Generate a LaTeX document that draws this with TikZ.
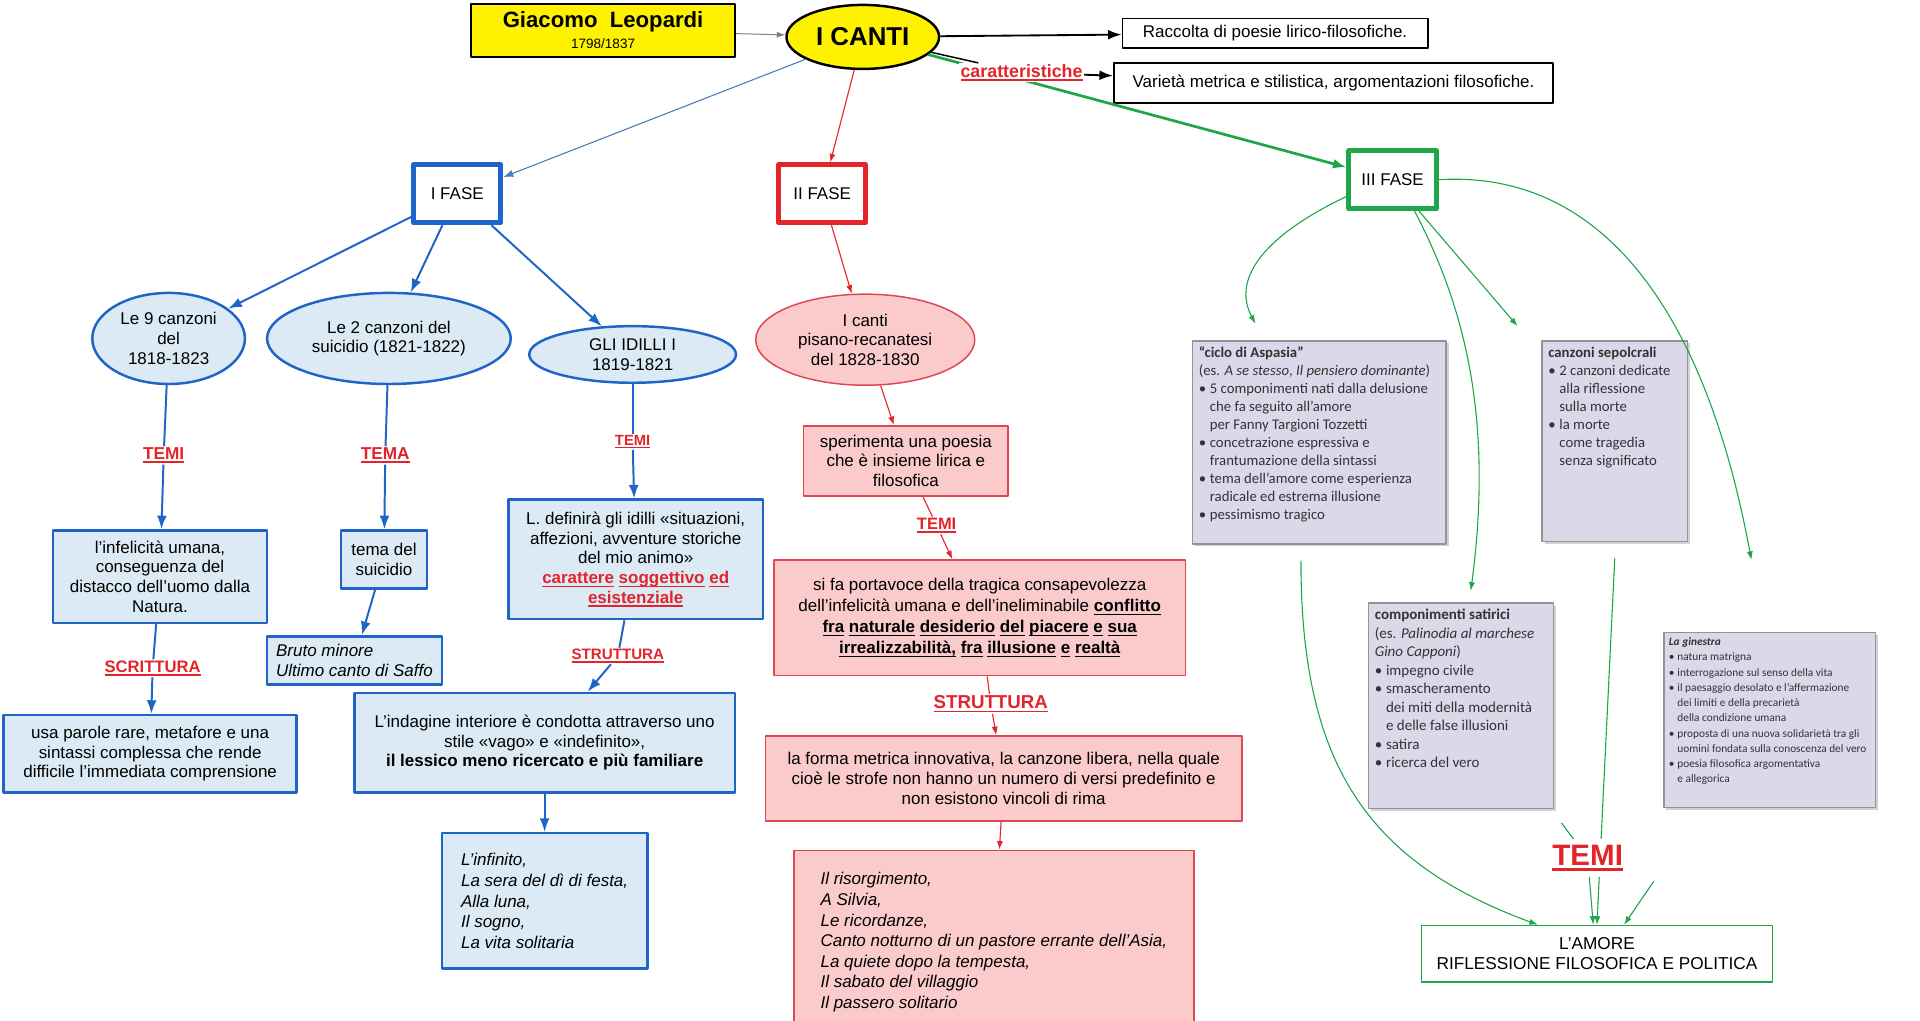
\documentclass[tikz,border=0pt]{standalone}
\usepackage{fontspec}
\setmainfont{Liberation Sans}
\newfontfamily\carlito{Carlito}
\usetikzlibrary{shapes.geometric,arrows.meta,shadows}
\definecolor{fblue}{HTML}{1F64C8}
\definecolor{azzurro}{HTML}{DBEAF4}
\definecolor{rosso}{HTML}{E3242B}
\definecolor{rosa}{HTML}{FBCBCC}
\definecolor{bordorosa}{HTML}{E04850}
\definecolor{verde}{HTML}{1FA64A}
\definecolor{lilla}{HTML}{DCD8EA}
\definecolor{acciaio}{HTML}{4A7EBB}
\newcommand{\sott}[1]{\sbox0{#1}\rlap{\rule[-0.2em]{\wd0}{0.09em}}\usebox0}
\newcommand{\punto}{\makebox[0.75em][l]{\textbullet}}
\newcommand{\rientro}{\hspace*{0.75em}}

\begin{document}
\begin{tikzpicture}[x=1pt,y=-1pt,font=\fontsize{13.8}{16}\selectfont,line join=round,
  >={Latex[length=11pt,width=8pt]},
  cornice/.style={draw,line width=1.5pt,fill=white,inner sep=2pt},
  fase/.style={draw,line width=4pt,fill=white,minimum width=71pt,minimum height=47pt},
  bluell/.style={ellipse,draw=fblue,line width=2pt,fill=azzurro,align=center,inner sep=0pt},
  blubox/.style={draw=fblue,line width=2pt,fill=azzurro,align=center,inner sep=2pt},
  rosell/.style={ellipse,draw=bordorosa,line width=1.2pt,fill=rosa,align=center,inner sep=0pt},
  rosabox/.style={draw=bordorosa,line width=1.2pt,fill=rosa,align=center,inner sep=2pt},
  lillabox/.style={draw=gray!85,line width=1.2pt,fill=lilla,inner sep=5pt,text=black!80,
    drop shadow={shadow xshift=2pt,shadow yshift=-2pt,fill=gray!70}},
  etic/.style={text=rosso,font=\bfseries\fontsize{14}{16}\selectfont,inner sep=1pt},
  frblu/.style={draw=fblue,line width=1.6pt,->},
  frrossa/.style={draw=rosso,line width=0.9pt,>={Latex[length=7pt,width=5pt]},->},
  frverde/.style={draw=verde,line width=0.9pt,>={Latex[length=7pt,width=5pt]},->}]
\useasboundingbox (0,0) rectangle (1560,829);

% titolo
\node[cornice,line width=1.8pt,fill=yellow,minimum width=214pt,minimum height=43pt,align=center,inner sep=1pt] (leo) at (490,24.5)
  {{\bfseries\fontsize{18}{18}\selectfont Giacomo\ \ Leopardi}\\[1pt]{\fontsize{11}{11}\selectfont 1798/1837}};
\node[ellipse,draw,line width=2pt,fill=yellow,minimum width=124pt,minimum height=52pt,inner sep=0pt,
  font=\bfseries\fontsize{21}{21}\selectfont] (canti) at (701,30) {I CANTI};
\node[cornice,minimum width=248pt,minimum height=24pt] (racc) at (1036,27) {Raccolta di poesie lirico-filosofiche.};
\node[cornice,minimum width=357pt,minimum height=33pt] (var) at (1083.5,67.5) {Varietà metrica e stilistica, argomentazioni filosofiche.};

\node[fase,draw=fblue] (f1) at (371.5,157.5) {I FASE};
\node[fase,draw=rosso] (f2) at (668,157.5) {II FASE};
\node[fase,draw=verde] (f3) at (1131.5,146) {III FASE};

\draw[gray,line width=0.8pt,>={Latex[length=7pt,width=5pt]},->] (leo) -- (canti);
\draw[line width=1.5pt,->] (canti) -- (racc);
\draw[verde,line width=2.2pt,->] (canti) -- (f3.165);
\node[etic,fill=white,font=\bfseries\fontsize{14.5}{16}\selectfont] (car) at (830,59) {\sott{caratteristiche}};
\draw[line width=1.2pt] (canti) -- (car);
\draw[line width=1.5pt,->] (car) -- (var);
\draw[acciaio,line width=0.9pt,>={Latex[length=8pt,width=6pt]},->] (canti) -- (f1.20);
\draw[frrossa] (canti) -- (f2);

% I fase
\node[bluell,minimum width=124pt,minimum height=74pt] (e1) at (137,275) {Le 9 canzoni\\del\\1818-1823};
\node[bluell,minimum width=198pt,minimum height=74pt] (e2) at (316,275) {Le 2 canzoni del\\suicidio (1821-1822)};
\node[bluell,minimum width=168pt,minimum height=46pt] (e3) at (514,288) {GLI IDILLI I\\1819-1821};
\foreach \e in {e1,e2,e3}{\draw[frblu] (f1) -- (\e);}

\node[etic] (t1) at (133,370) {\sott{TEMI}};
\node[etic] (t2) at (313,370) {\sott{TEMA}};
\node[etic,font=\bfseries\fontsize{12}{14}\selectfont] (t3) at (514,359) {\sott{TEMI}};
\node[etic,font=\bfseries\fontsize{13.5}{16}\selectfont] (sc) at (124,543) {\sott{SCRITTURA}};
\node[etic,font=\bfseries\fontsize{12.3}{14}\selectfont] (st1) at (502,533) {\sott{STRUTTURA}};

\node[blubox,minimum width=174pt,minimum height=75pt] (b1) at (130,468.5)
  {l’infelicità umana,\\conseguenza del\\distacco dell’uomo dalla\\Natura.};
\node[blubox,minimum width=70pt,minimum height=47pt] (b2) at (312,454.5) {tema del\\suicidio};
\node[blubox,minimum width=207pt,minimum height=97pt] (b3) at (516.5,454.5)
  {L. definirà gli idilli «situazioni,\\affezioni, avventure storiche\\del mio animo»\\
   \textcolor{rosso}{\bfseries\sott{carattere} \sott{soggettivo} \sott{ed}}\\
   \textcolor{rosso}{\bfseries\sott{esistenziale}}};
\node[blubox,minimum width=238pt,minimum height=63pt] (b4) at (122,612.5)
  {usa parole rare, metafore e una\\sintassi complessa che rende\\difficile l’immediata comprensione};
\node[blubox,align=left,minimum width=142pt,minimum height=39pt,font=\itshape\fontsize{13.8}{16}\selectfont] (b5) at (288,536.5)
  {Bruto minore\\Ultimo canto di Saffo};
\node[blubox,minimum width=309pt,minimum height=81pt] (b6) at (442.5,603.5)
  {L’indagine interiore è condotta attraverso uno\\stile «vago» e «indefinito»,\\\textbf{il lessico meno ricercato e più familiare}};
\node[blubox,align=left,minimum width=167pt,minimum height=110pt,font=\itshape\fontsize{13.8}{17}\selectfont] (b7) at (442.5,732)
  {L’infinito,\\La sera del dì di festa,\\Alla luna,\\Il sogno,\\La vita solitaria};

\draw[frblu,-] (e1) -- (t1);
\draw[frblu] (t1) -- (b1);
\draw[frblu,-] (e2) -- (t2);
\draw[frblu] (t2) -- (b2);
\draw[frblu,-] (e3) -- (t3);
\draw[frblu] (t3) -- (b3);
\draw[frblu,-] (b1) -- (sc);
\draw[frblu] (sc) -- (b4);
\draw[frblu] (b2) -- (b5);
\draw[frblu,-] (b3) -- (st1);
\draw[frblu] (st1) -- (b6);
\draw[frblu] (b6) -- (b7);

% II fase
\node[rosell,minimum width=178pt,minimum height=74pt] (e4) at (703,276) {I canti\\pisano-recanatesi\\del 1828-1830};
\node[rosabox,minimum width=166pt,minimum height=57pt] (p1) at (736,374.5) {sperimenta una poesia\\che è insieme lirica e\\filosofica};
\node[etic,font=\bfseries\fontsize{13.4}{16}\selectfont] (t4) at (761,427) {\sott{TEMI}};
\node[rosabox,minimum width=334pt,minimum height=94pt,font=\fontsize{13.8}{17}\selectfont] (p2) at (796,502)
  {si fa portavoce della tragica consapevolezza\\
   dell’infelicità umana e dell’ineliminabile \textbf{\sott{conflitto}}\\
   \textbf{\sott{fra} \sott{naturale} \sott{desiderio} \sott{del} \sott{piacere} \sott{e} \sott{sua}}\\
   \textbf{\sott{irrealizzabilità,} \sott{fra} \sott{illusione} \sott{e} \sott{realtà}}};
\node[etic,font=\bfseries\fontsize{15.2}{17}\selectfont] (st2) at (805,572) {\sott{STRUTTURA}};
\node[rosabox,minimum width=387pt,minimum height=69pt] (p3) at (815.5,632.5)
  {la forma metrica innovativa, la canzone libera, nella quale\\cioè le strofe non hanno un numero di versi predefinito e\\non esistono vincoli di rima};
\node[rosabox,align=left,minimum width=325pt,minimum height=149pt,font=\itshape\fontsize{13.8}{16.7}\selectfont] (p4) at (807.5,765.5)
  {Il risorgimento,\\A Silvia,\\Le ricordanze,\\Canto notturno di un pastore errante dell’Asia,\\La quiete dopo la tempesta,\\Il sabato del villaggio\\Il passero solitario};

\draw[frrossa] (f2) -- (e4);
\draw[frrossa] (e4) -- (p1);
\draw[frrossa,-] (p1) -- (t4);
\draw[frrossa] (t4) -- (p2);
\draw[frrossa,-] (p2) -- (st2);
\draw[frrossa] (st2) -- (p3);
\draw[frrossa] (p3) -- (p4);

% III fase
\node[lillabox] (asp) at (1072,359.5) {\parbox[c][155pt][t]{196pt}{\carlito\fontsize{12}{14.6}\selectfont\raggedright
  \textbf{“ciclo di Aspasia”}\\
  (es. \textit{A se stesso}, \textit{Il pensiero dominante})\\
  \punto 5 componimenti nati dalla delusione\\
  \rientro che fa seguito all’amore\\
  \rientro per Fanny Targioni Tozzetti\\
  \punto concetrazione espressiva e\\
  \rientro frantumazione della sintassi\\
  \punto tema dell’amore come esperienza\\
  \rientro radicale ed estrema illusione\\
  \punto pessimismo tragico}};
\node[lillabox] (sep) at (1312,358.5) {\parbox[c][153pt][t]{108pt}{\carlito\fontsize{12}{14.6}\selectfont\raggedright
  \textbf{canzoni sepolcrali}\\
  \punto 2 canzoni dedicate\\
  \rientro alla riflessione\\
  \rientro sulla morte\\
  \punto la morte\\
  \rientro come tragedia\\
  \rientro senza significato}};
\node[lillabox] (sat) at (1187,573.5) {\parbox[c][157pt][t]{140pt}{\carlito\fontsize{12.2}{15}\selectfont\raggedright
  \textbf{componimenti satirici}\\
  (es. \textit{Palinodia al marchese}\\
  \textit{Gino Capponi})\\
  \punto impegno civile\\
  \punto smascheramento\\
  \rientro dei miti della modernità\\
  \rientro e delle false illusioni\\
  \punto satira\\
  \punto ricerca del vero}};
\node[lillabox,inner sep=4pt] (gin) at (1438,585) {\parbox[c][134pt][t]{164pt}{\carlito\fontsize{9.2}{12.4}\selectfont\raggedright
  \textbf{\textit{La ginestra}}\\
  \punto natura matrigna\\
  \punto interrogazione sul senso della vita\\
  \punto il paesaggio desolato e l’affermazione\\
  \rientro dei limiti e della precarietà\\
  \rientro della condizione umana\\
  \punto proposta di una nuova solidarietà tra gli\\
  \rientro uomini fondata sulla conoscenza del vero\\
  \punto poesia filosofica argomentativa\\
  \rientro e allegorica}};
\node[draw=verde,line width=1.2pt,fill=white,align=center,minimum width=285pt,minimum height=46pt,
  font=\fontsize{14}{16}\selectfont] (amore) at (1297.5,775) {L’AMORE\\RIFLESSIONE FILOSOFICA E POLITICA};

\coordinate (g1) at (1020,263);
\coordinate (g2) at (1233,265);
\coordinate (g3) at (1195,480);
\coordinate (g4) at (1423,455);
\coordinate (t5c) at (1290,697);
\draw[frverde] (f3.200) .. controls (1030,190) and (1000,225) .. (g1);
\draw[frverde] (f3.-50) -- (g2);
\draw[frverde] (f3.-55) .. controls (1185,240) and (1215,330) .. (g3);
\draw[frverde] (f3.east) .. controls (1300,138) and (1385,250) .. (g4);
\draw[frverde] ([shift={(-15,13)}]asp.south) .. controls (1057,620) and (1110,700) .. ([xshift=-48pt]amore.north);
\draw[frverde] ([yshift=-13pt]sep.south) -- (amore.north);
\draw[verde,line width=0.9pt] ([shift={(6,11)}]sat.south east) -- (t5c);
\draw[frverde] (t5c) -- ([xshift=-3pt]amore.north);
\draw[frverde,shorten <=72pt] ([xshift=33pt]gin.south west) -- ([xshift=22pt]amore.north);
\node[etic,fill=white,minimum width=90pt,minimum height=31pt,font=\bfseries\fontsize{24}{26}\selectfont] (t5) at (t5c) {\sott{TEMI}};
\end{tikzpicture}
\end{document}
